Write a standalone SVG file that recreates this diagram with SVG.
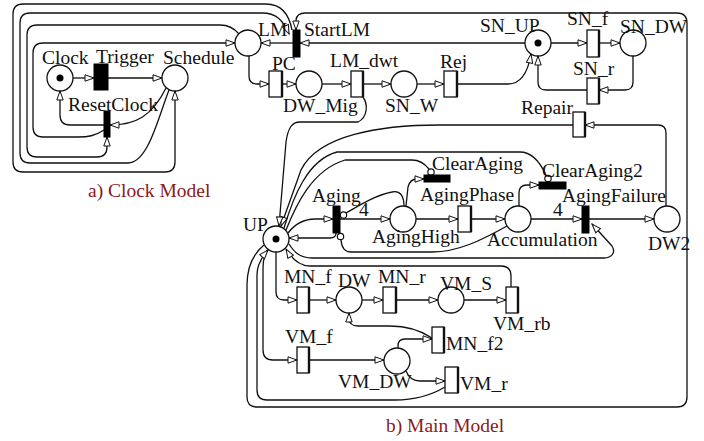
<svg xmlns="http://www.w3.org/2000/svg" width="704" height="441" viewBox="0 0 704 441">
<defs>
<marker id="ar" markerUnits="userSpaceOnUse" markerWidth="12" markerHeight="10" refX="10" refY="4" orient="auto">
<path d="M1,0.8 L10,4 L1,7.2 z" fill="#fff" stroke="#111" stroke-width="1"/>
</marker>
<style>
.e{fill:none;stroke:#111;stroke-width:1.3}
.a{marker-end:url(#ar)}
.p{fill:#fff;stroke:#111;stroke-width:1.3}
.tk{fill:#000}
.tb{fill:#000;stroke:#000;stroke-width:1}
.tw{fill:#fff;stroke:#111;stroke-width:1.3}
.sh{stroke:#111;stroke-width:2.4}
.ih{fill:#fff;stroke:#111;stroke-width:1.2}
text{font-family:"Liberation Serif","DejaVu Serif",serif;font-size:19.5px;fill:#111}
.cap{fill:#8b1a1a}
</style>
</defs>
<rect width="704" height="441" fill="#fff"/>

<g id="connectors">
<!-- clock model -->
<path class="e a" d="M73,78 H94"/>
<path class="e a" d="M108,78 H162"/>
<path class="e a" d="M166,88 C152,116 136,125 110,125"/>
<path class="e a" d="M104,125 H70 Q60,125 60,115 V91"/>
<path class="e a" d="M104,130 C95,136 88,137 78,137 H43 Q33,137 33,127 V53 Q33,43 43,43 H235"/>
<path class="e a" d="M239,34 C234,28 229,25 220,25 H37 Q27,25 27,35 V147 Q27,157 37,157 H97 Q107,157 107,147 V137"/>
<path class="e a" d="M169,90 C158,118 148,163 128,163 H30 Q20,163 20,153 V23 Q20,13 30,13 H262 C276,13 283,20 289,34"/>
<path class="e a" d="M292,30 C289,14 281,4 266,4 H23 Q13,4 13,14 V162 Q13,172 23,172 H165 Q175,172 175,162 V91"/>
<!-- main top -->
<path class="e a" d="M249,56 V76 Q249,84 257,84 H269"/>
<path class="e a" d="M282,84 H296"/>
<path class="e a" d="M322,84 H351"/>
<path class="e a" d="M363,84 H391"/>
<path class="e a" d="M417,84 H444"/>
<path class="e a" d="M457,84 H508 C521,84 528,72 531,54"/>
<path class="e a" d="M525,43 H300"/>
<path class="e a" d="M293,43 H261"/>
<path class="e a" d="M551,43 H587"/>
<path class="e a" d="M599,43 H620"/>
<path class="e a" d="M633,56 V82 Q633,90 625,90 H599"/>
<path class="e a" d="M587,90 H546 Q538,90 538,82 V56"/>
<path class="e a" d="M666,206 V133 Q666,125 658,125 H585"/>
<path class="e a" d="M573,125 H440 C380,125 318,135 301,170 L281,226"/>
<path class="e a" d="M363,97 C368,104 368,117 358,122 H300 C292,122 288,128 286,142 L279,226"/>
<path class="e a" d="M264,245 C252,255 247,268 247,285 V397 Q247,407 257,407 H677 Q687,407 687,397 V23 Q687,13 677,13 H305 Q297,13 296,20 V30"/>
<!-- aging -->
<path class="e" d="M284,228 C293,198 307,160 337,152 H520 C532,152 540,162 546,175"/>
<path class="e" d="M286,230 C296,205 312,170 345,160 H412 C420,160 425,164 429,169"/>
<path class="e a" d="M288,233 C295,224 305,219 315,219 H333"/>
<path class="e a" d="M336,233 Q336,238 330,238 H289"/>
<path class="e a" d="M340,219 H390"/>
<path class="e" d="M404,206 C404,196 400,190 392,192 C376,195 360,205 346,213"/>
<path class="e a" d="M406,206 L408,187 Q410,179 417,179 H424"/>
<path class="e a" d="M416,219 H458"/>
<path class="e a" d="M471,219 H505"/>
<path class="e" d="M507,226 C482,240 458,252 432,252 H351 Q342,252 341,240"/>
<path class="e a" d="M519,206 V193 Q519,185 527,185 H539"/>
<path class="e a" d="M531,219 H582"/>
<path class="e a" d="M589,219 H654"/>
<path class="e a" d="M289,244 C294,252 300,258 312,258 H604 C612,258 616,252 612,246 L592,224"/>
<path class="e a" d="M511,287 V276 Q511,266 501,266 H310 C300,266 292,259 286,249"/>
<!-- lower -->
<path class="e a" d="M276,252 V292 Q276,300 284,300 H297"/>
<path class="e a" d="M309,300 H336"/>
<path class="e a" d="M362,300 H383"/>
<path class="e a" d="M396,300 H438"/>
<path class="e a" d="M464,300 H506"/>
<path class="e a" d="M432,338 C420,330 405,326 390,326 H358 Q349,326 349,318 V313"/>
<path class="e a" d="M398,348 V346 Q398,339 405,339 H432"/>
<path class="e a" d="M267,250 C264,256 263,261 263,268 V350 Q263,360 273,360 H297"/>
<path class="e a" d="M309,360 H384"/>
<path class="e a" d="M406,371 Q410,381 420,381 H445"/>
<path class="e a" d="M445,387 C430,396 415,400 395,400 H267 Q257,400 257,390 V275 C257,265 261,258 268,250"/>
<!-- inhibitor circles -->
<circle class="ih" cx="548" cy="178.5" r="3.2"/>
<circle class="ih" cx="431" cy="172" r="3.2"/>
<circle class="ih" cx="343.5" cy="215" r="3.2"/>
<circle class="ih" cx="340.5" cy="236.5" r="3.2"/>
</g>

<!-- places -->
<g id="Clock"><circle class="p" cx="60" cy="78" r="13"/><circle class="tk" cx="60" cy="78" r="3.5"/><text x="42" y="64">Clock</text></g>
<g id="Schedule"><circle class="p" cx="175" cy="78" r="13"/><text x="163" y="64">Schedule</text></g>
<g id="LM"><circle class="p" cx="248" cy="43" r="13"/><text x="258" y="36">LM</text></g>
<g id="DW_Mig"><circle class="p" cx="309" cy="84" r="13"/><text x="283" y="112">DW_Mig</text></g>
<g id="SN_W"><circle class="p" cx="404" cy="84" r="13"/><text x="385" y="112">SN_W</text></g>
<g id="SN_UP"><circle class="p" cx="538" cy="43" r="13"/><circle class="tk" cx="538" cy="43" r="3.5"/><text x="480" y="32">SN_UP</text></g>
<g id="SN_DW"><circle class="p" cx="633" cy="43" r="13"/><text x="620" y="33">SN_DW</text></g>
<g id="UP"><circle class="p" cx="276" cy="239" r="13"/><circle class="tk" cx="276" cy="239" r="3.5"/><text x="243" y="231">UP</text></g>
<g id="AgingHigh"><circle class="p" cx="403" cy="219" r="13"/><text x="372" y="243">AgingHigh</text></g>
<g id="Accumulation"><circle class="p" cx="518" cy="219" r="13"/><text x="487" y="246">Accumulation</text></g>
<g id="DW2"><circle class="p" cx="667" cy="219" r="13"/><text x="648" y="250">DW2</text></g>
<g id="DW"><circle class="p" cx="349" cy="300" r="13"/><text x="338" y="287">DW</text></g>
<g id="VM_S"><circle class="p" cx="451" cy="300" r="13"/><text x="440" y="290">VM_S</text></g>
<g id="VM_DW"><circle class="p" cx="397" cy="361" r="13"/><text x="338" y="388">VM_DW</text></g>

<!-- transitions -->
<g id="Trigger"><rect class="tb" x="94" y="64" width="14" height="26"/><text x="96" y="63">Trigger</text></g>
<g id="ResetClock"><rect class="tb" x="104" y="111" width="6" height="26"/><text x="68" y="111">ResetClock</text></g>
<g id="StartLM"><rect class="tb" x="293" y="30" width="7" height="27"/><text x="304" y="36">StartLM</text></g>
<g id="PC"><rect class="tw" x="269" y="71" width="13" height="26"/><line class="sh" x1="282" y1="71" x2="282" y2="97"/><text x="272" y="70">PC</text></g>
<g id="LM_dwt"><rect class="tw" x="351" y="71" width="12" height="26"/><line class="sh" x1="363" y1="71" x2="363" y2="97"/><text x="330" y="67">LM_dwt</text></g>
<g id="Rej"><rect class="tw" x="444" y="71" width="13" height="26"/><line class="sh" x1="457" y1="71" x2="457" y2="97"/><text x="440" y="68">Rej</text></g>
<g id="SN_f"><rect class="tw" x="587" y="30" width="12" height="27"/><line class="sh" x1="599" y1="30" x2="599" y2="57"/><text x="567" y="25">SN_f</text></g>
<g id="SN_r"><rect class="tw" x="587" y="78" width="12" height="26"/><line class="sh" x1="599" y1="78" x2="599" y2="104"/><text x="573" y="75">SN_r</text></g>
<g id="Repair"><rect class="tw" x="573" y="112" width="12" height="25"/><line class="sh" x1="585" y1="112" x2="585" y2="137"/><text x="521" y="114">Repair</text></g>
<g id="Aging"><rect class="tb" x="333" y="206" width="7" height="27"/><text x="312" y="202">Aging</text><text x="359" y="216">4</text></g>
<g id="ClearAging"><rect class="tb" x="424" y="175" width="26" height="7"/><text x="432" y="170">ClearAging</text></g>
<g id="AgingPhase"><rect class="tw" x="458" y="206" width="13" height="26"/><line class="sh" x1="471" y1="206" x2="471" y2="232"/><text x="420" y="201">AgingPhase</text></g>
<g id="ClearAging2"><rect class="tb" x="539" y="182" width="27" height="7"/><text x="542" y="177">ClearAging2</text></g>
<g id="AgingFailure"><rect class="tb" x="582" y="206" width="7" height="27"/><text x="562" y="202">AgingFailure</text><text x="553" y="216">4</text></g>
<g id="MN_f"><rect class="tw" x="297" y="287" width="12" height="26"/><line class="sh" x1="309" y1="287" x2="309" y2="313"/><text x="284" y="283">MN_f</text></g>
<g id="MN_r"><rect class="tw" x="383" y="287" width="13" height="26"/><line class="sh" x1="396" y1="287" x2="396" y2="313"/><text x="378" y="283">MN_r</text></g>
<g id="VM_rb"><rect class="tw" x="506" y="287" width="12" height="26"/><line class="sh" x1="518" y1="287" x2="518" y2="313"/><text x="493" y="330">VM_rb</text></g>
<g id="MN_f2"><rect class="tw" x="432" y="327" width="12" height="26"/><line class="sh" x1="444" y1="327" x2="444" y2="353"/><text x="446" y="350">MN_f2</text></g>
<g id="VM_f"><rect class="tw" x="297" y="347" width="12" height="26"/><line class="sh" x1="309" y1="347" x2="309" y2="373"/><text x="285" y="343">VM_f</text></g>
<g id="VM_r"><rect class="tw" x="445" y="367" width="13" height="26"/><line class="sh" x1="458" y1="367" x2="458" y2="393"/><text x="460" y="390">VM_r</text></g>

<g id="captions">
<text class="cap" x="88" y="197">a) Clock Model</text>
<text class="cap" x="386" y="432">b) Main Model</text>
</g>
</svg>
